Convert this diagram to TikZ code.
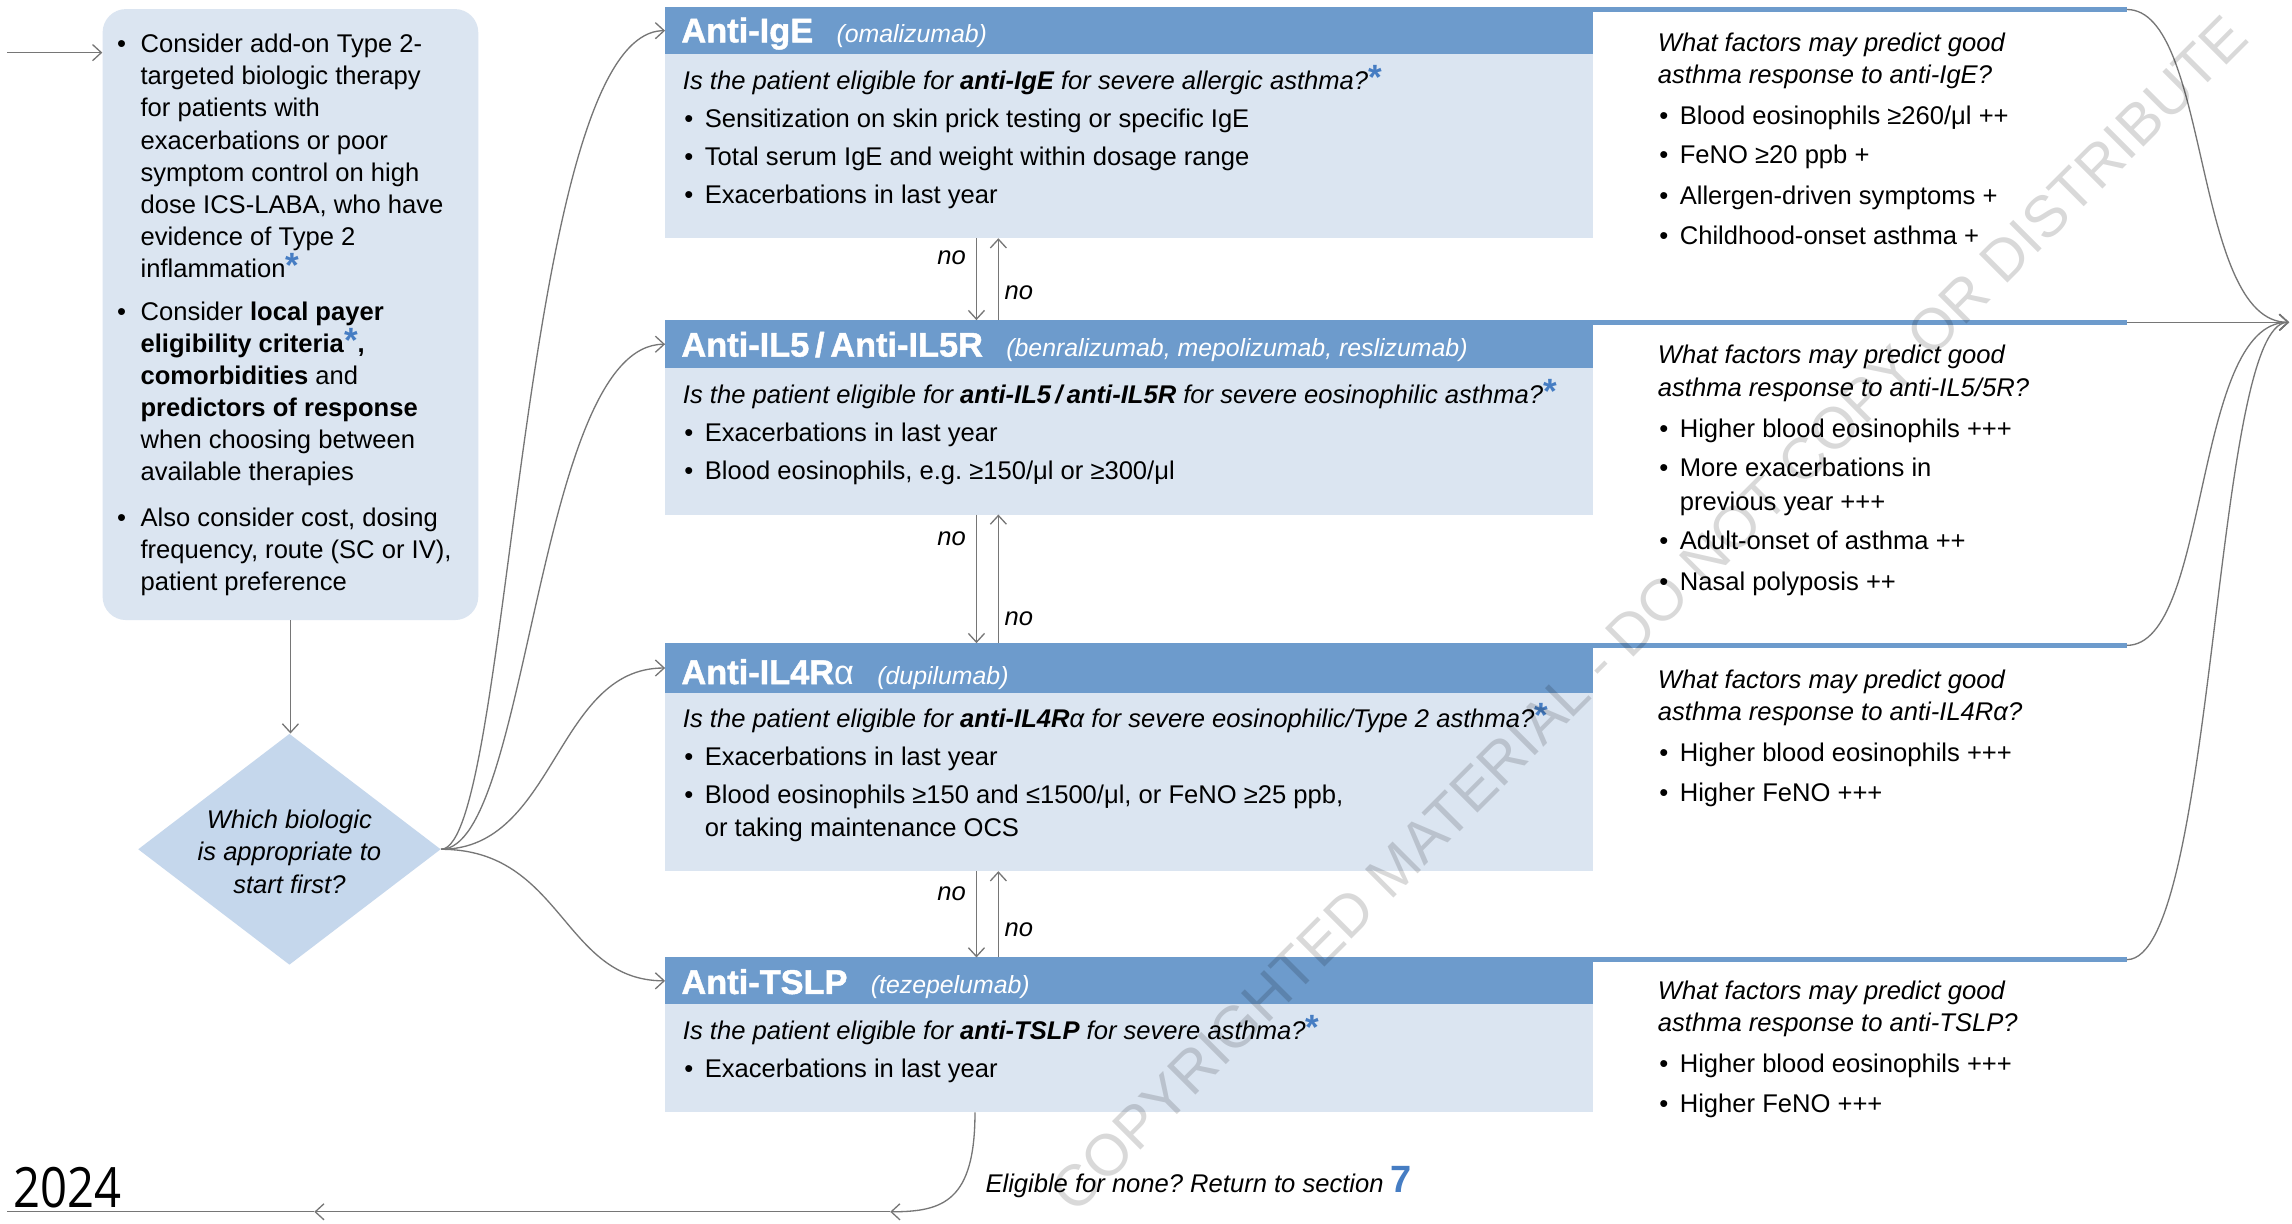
\documentclass[tikz,border=0pt]{standalone}
\usepackage{fontspec}
\usepackage{graphicx}
\setmainfont{Liberation Sans}
\newfontfamily\yearfont{Open Sans}
\newfontfamily\hdrfont{Liberation Sans Bold}[FakeBold=1.3]
\usetikzlibrary{arrows.meta,shapes.geometric,calc}
\definecolor{hdrblue}{RGB}{109,155,204}
\definecolor{bodyblue}{RGB}{219,229,241}
\definecolor{diamblue}{RGB}{197,215,236}
\definecolor{starblue}{RGB}{70,125,195}
\definecolor{arrgray}{RGB}{118,118,118}
\newcommand{\bstar}{{\upshape\bfseries\color{starblue}\fontsize{24}{24}\selectfont *}}
\newcommand{\mybul}[1][14pt]{\makebox[#1][l]{\textbullet}}
\newcommand{\drugfont}{\normalfont\mdseries\itshape\fontsize{17}{20}\selectfont}
\frenchspacing
\begin{document}
\begin{tikzpicture}[x=1pt,y=-1pt,
  conn/.style={draw=arrgray, line width=0.9pt, -{Straight Barb[length=6pt,width=11pt]}},
  plain/.style={draw=arrgray, line width=0.9pt},
  txt/.style={anchor=base west, inner sep=0pt, font=\fontsize{17.5}{22}\selectfont},
  qtxt/.style={anchor=base west, inner sep=0pt, font=\fontsize{17.5}{22}\selectfont\itshape},
  notxt/.style={anchor=base, inner sep=0pt, font=\fontsize{17.5}{22}\selectfont\itshape},
  hdrtxt/.style={anchor=base west, inner sep=0pt, text=white, font=\hdrfont\fontsize{23.5}{26}\selectfont},
  hdrbox/.style={anchor=north west, fill=hdrblue, minimum width=635pt, inner sep=0pt, outer sep=0pt},
  bodybox/.style={anchor=north west, fill=bodyblue, minimum width=635pt, inner sep=0pt, outer sep=0pt},
  topline/.style={draw=hdrblue, line width=3pt}
]
\useasboundingbox (0,0) rectangle (1568,837);
\fill[white] (0,0) rectangle (1568,837);

% ---------- left intro box and diamond
\node[anchor=north west, fill=bodyblue, rounded corners=16pt, minimum width=257pt, minimum height=418pt, inner sep=0pt] (intro) at (70,6) {};
\node[diamond, fill=diamblue, minimum width=207pt, minimum height=158pt, inner sep=0pt] (dia) at (198,581) {};

% ---------- therapy boxes
\node[hdrbox, minimum height=32pt] (h1) at (455,5) {};
\node[bodybox, minimum height=126pt] (b1) at (455,37) {};
\node[hdrbox, minimum height=33pt] (h2) at (455,219) {};
\node[bodybox, minimum height=100pt] (b2) at (455,252) {};
\node[hdrbox, minimum height=34pt] (h3) at (455,440) {};
\node[bodybox, minimum height=122pt] (b3) at (455,474) {};
\node[hdrbox, minimum height=32pt] (h4) at (455,655) {};
\node[bodybox, minimum height=74pt] (b4) at (455,687) {};

\coordinate (e1) at (1455,6.5);
\coordinate (e2) at (1455,220.5);
\coordinate (e3) at (1455,441.5);
\coordinate (e4) at (1455,656.5);
\draw[topline] (1089,6.5) -- (e1);
\draw[topline] (1089,220.5) -- (e2);
\draw[topline] (1089,441.5) -- (e3);
\draw[topline] (1089,656.5) -- (e4);

% ---------- connectors
\coordinate (in0) at (5,36);
\draw[conn] (in0) -- (in0 -| intro.west);
\draw[conn] (intro.south) -- (intro.south |- dia.north);

\draw[conn] (dia.east) .. controls (350,581) and (355,21) .. (h1.west);
\draw[conn] (dia.east) .. controls (362,581) and (367,235.5) .. (h2.west);
\draw[conn] (dia.east) .. controls (380,581) and (380,457) .. (h3.west);
\draw[conn] (dia.east) .. controls (385,581) and (385,671) .. (h4.west);

\draw[conn] ($(b1.south west)+(213,0)$) -- ($(h2.north west)+(213,0)$);
\draw[conn] ($(h2.north west)+(228,0)$) -- ($(b1.south west)+(228,0)$);
\draw[conn] ($(b2.south west)+(213,0)$) -- ($(h3.north west)+(213,0)$);
\draw[conn] ($(h3.north west)+(228,0)$) -- ($(b2.south west)+(228,0)$);
\draw[conn] ($(b3.south west)+(213,0)$) -- ($(h4.north west)+(213,0)$);
\draw[conn] ($(h4.north west)+(228,0)$) -- ($(b3.south west)+(228,0)$);

\coordinate (merge) at (1566,220.5);
\draw[conn] (e1) .. controls (1512,6.5) and (1500,220.5) .. (merge);
\draw[conn] (e2) -- (merge);
\draw[conn] (e3) .. controls (1512,441.5) and (1500,220.5) .. (merge);
\draw[conn] (e4) .. controls (1516,656.5) and (1514,220.5) .. (merge);

\coordinate (ret) at (609,829);
\coordinate (retm) at (215,829);
\coordinate (rete) at (5,829);
\draw[conn] ($(b4.south west)+(212,0)$) .. controls (667,822) and (645,829) .. (ret);
\draw[conn] (ret) -- (retm);
\draw[plain] (retm) -- (rete);

% ---------- intro text (base = baseline of last line)
\node[txt, align=left] (i1) at (80,190) {\mybul[16pt]Consider add-on Type 2-\\\hspace*{16pt}targeted biologic therapy\\\hspace*{16pt}for patients with\\\hspace*{16pt}exacerbations or poor\\\hspace*{16pt}symptom control on high\\\hspace*{16pt}dose ICS-LABA, who have\\\hspace*{16pt}evidence of Type 2\\\hspace*{16pt}inflammation\bstar};
\node[txt, align=left] (i2) at (80,329) {\mybul[16pt]Consider \textbf{local payer}\\\hspace*{16pt}\textbf{eligibility criteria}\bstar\textbf{,}\\\hspace*{16pt}\textbf{comorbidities} and\\\hspace*{16pt}\textbf{predictors of response}\\\hspace*{16pt}when choosing between\\\hspace*{16pt}available therapies};
\node[txt, align=left] (i3) at (80,404) {\mybul[16pt]Also consider cost, dosing\\\hspace*{16pt}frequency, route (SC or IV),\\\hspace*{16pt}patient preference};
\node[notxt, align=center] (dq) at (198,611) {Which biologic\\is appropriate to\\start first?};

% ---------- row 1
\node[hdrtxt] (t1) at (466,29) {Anti-IgE\hspace{16pt}{\drugfont(omalizumab)}};
\node[qtxt] (q1) at (467,61) {Is the patient eligible for \textbf{anti-IgE} for severe allergic asthma?\bstar};
\node[txt] (c11) at (468,87) {\mybul Sensitization on skin prick testing or specific IgE};
\node[txt] (c12) at (468,113) {\mybul Total serum IgE and weight within dosage range};
\node[txt] (c13) at (468,139) {\mybul Exacerbations in last year};
\node[qtxt, align=left] (p1) at (1134,57) {What factors may predict good\\asthma response to anti-IgE?};
\node[txt] (p11) at (1135,85) {\mybul Blood eosinophils ≥260/μl ++};
\node[txt] (p12) at (1135,112) {\mybul FeNO ≥20 ppb +};
\node[txt] (p13) at (1135,140) {\mybul Allergen-driven symptoms +};
\node[txt] (p14) at (1135,167) {\mybul Childhood-onset asthma +};

% ---------- row 2
\node[hdrtxt] (t2) at (466,244) {Anti-IL5\,/\,Anti-IL5R\hspace{16pt}{\drugfont(benralizumab, mepolizumab, reslizumab)}};
\node[qtxt] (q2) at (467,276) {Is the patient eligible for \textbf{anti-IL5\,/\,anti-IL5R} for severe eosinophilic asthma?\bstar};
\node[txt] (c21) at (468,302) {\mybul Exacerbations in last year};
\node[txt] (c22) at (468,328) {\mybul Blood eosinophils, e.g. ≥150/μl or ≥300/μl};
\node[qtxt, align=left] (p2) at (1134,271) {What factors may predict good\\asthma response to anti-IL5/5R?};
\node[txt] (p21) at (1135,299) {\mybul Higher blood eosinophils +++};
\node[txt, align=left, font=\fontsize{17.5}{23}\selectfont] (p22) at (1135,349) {\mybul More exacerbations in\\\hspace*{14pt}previous year +++};
\node[txt] (p23) at (1135,376) {\mybul Adult-onset of asthma ++};
\node[txt] (p24) at (1135,404) {\mybul Nasal polyposis ++};

% ---------- row 3
\node[hdrtxt] (t3) at (466,468) {Anti-IL4R{\normalfont\mdseries\fontsize{23.5}{26}\selectfont α}\hspace{16pt}{\drugfont(dupilumab)}};
\node[qtxt] (q3) at (467,498) {Is the patient eligible for \textbf{anti-IL4R}α for severe eosinophilic/Type 2 asthma?\bstar};
\node[txt] (c31) at (468,524) {\mybul Exacerbations in last year};
\node[txt, align=left] (c32) at (468,572) {\mybul Blood eosinophils ≥150 and ≤1500/μl, or FeNO ≥25 ppb,\\\hspace*{14pt}or taking maintenance OCS};
\node[qtxt, align=left] (p3) at (1134,493) {What factors may predict good\\asthma response to anti-IL4Rα?};
\node[txt] (p31) at (1135,521) {\mybul Higher blood eosinophils +++};
\node[txt] (p32) at (1135,548) {\mybul Higher FeNO +++};

% ---------- row 4
\node[hdrtxt] (t4) at (466,680) {Anti-TSLP\hspace{16pt}{\drugfont(tezepelumab)}};
\node[qtxt] (q4) at (467,711) {Is the patient eligible for \textbf{anti-TSLP} for severe asthma?\bstar};
\node[txt] (c41) at (468,737) {\mybul Exacerbations in last year};
\node[qtxt, align=left] (p4) at (1134,706) {What factors may predict good\\asthma response to anti-TSLP?};
\node[txt] (p41) at (1135,734) {\mybul Higher blood eosinophils +++};
\node[txt] (p42) at (1135,761) {\mybul Higher FeNO +++};

% ---------- no labels
\node[notxt] (n1a) at (651,181) {no};
\node[notxt] (n1b) at (697,205) {no};
\node[notxt] (n2a) at (651,373) {no};
\node[notxt] (n2b) at (697,428) {no};
\node[notxt] (n3a) at (651,616) {no};
\node[notxt] (n3b) at (697,641) {no};

% ---------- bottom
\node[qtxt] (none) at (674,816) {Eligible for none? Return to section {\upshape\bfseries\color{starblue}\fontsize{26}{26}\selectfont 7}};
\node[anchor=base west, inner sep=0pt] (yr) at (9,826) {\yearfont\fontsize{38}{38}\selectfont\scalebox{0.85}[1]{2024}};

% ---------- watermark
\node[rotate=45, inner sep=0pt, text=black, text opacity=0.15, font=\fontsize{40}{40}\selectfont] (wm) at (1128,420) {COPYRIGHTED MATERIAL - DO NOT COPY OR DISTRIBUTE};
\end{tikzpicture}
\end{document}
